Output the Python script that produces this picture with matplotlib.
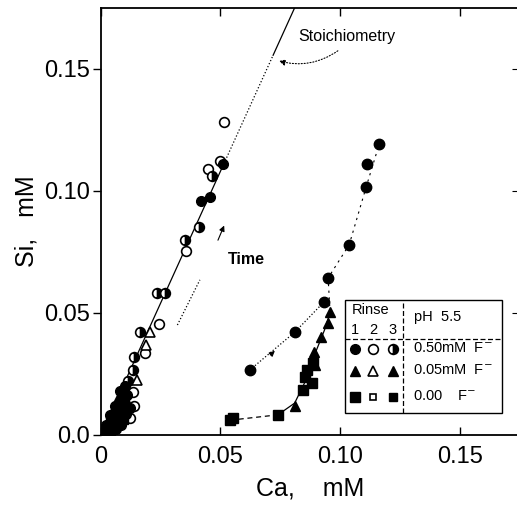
import numpy as np
import matplotlib
matplotlib.use("Agg")
import matplotlib.pyplot as plt
from matplotlib.patches import Rectangle

plt.rcParams['font.family'] = ['Liberation Sans', 'DejaVu Sans']

# ---- data (Ca, Si in mM) ----
# left cluster, rinse 1 (filled), 0.50 mM F-
l_fill_ca = [0.051, 0.0456, 0.042, 0.010, 0.008, 0.006, 0.004, 0.002, 0.001, 0.009, 0.007,
             0.011, 0.0095, 0.0075, 0.005, 0.003, 0.0065, 0.0085, 0.0105, 0.012, 0.004]
l_fill_si = [0.111, 0.0975, 0.096, 0.020, 0.018, 0.012, 0.008, 0.004, 0.002, 0.015, 0.010,
             0.0165, 0.0125, 0.0065, 0.004, 0.0015, 0.0025, 0.004, 0.0085, 0.0110, 0.0005]
# left cluster, rinse 2 (open), 0.50 mM F-
l_open_ca = [0.0515, 0.0448, 0.050, 0.0356, 0.0243, 0.0184, 0.014, 0.0134, 0.0054, 0.0120]
l_open_si = [0.128, 0.109, 0.112, 0.0754, 0.0455, 0.0336, 0.012, 0.0176, 0.0025, 0.0070]
# left cluster, rinse 3 (half filled), 0.50 mM F-
l_half_ca = [0.0464, 0.041, 0.035, 0.0235, 0.027, 0.0163, 0.0138, 0.0134, 0.0115]
l_half_si = [0.106, 0.085, 0.080, 0.058, 0.058, 0.042, 0.032, 0.0266, 0.022]
# left cluster triangles (0.05 mM F-)
l_tri_open_ca = [0.0205, 0.019, 0.015]
l_tri_open_si = [0.042, 0.037, 0.0225]
l_tri_fill_ca = [0.007, 0.005, 0.003, 0.0085, 0.0100, 0.0060, 0.0025]
l_tri_fill_si = [0.015, 0.010, 0.005, 0.012, 0.0150, 0.0070, 0.0030]
# left cluster squares (0.00 F-)
l_sq_ca = [0.004, 0.006, 0.002, 0.008, 0.010, 0.0045, 0.0070, 0.0095, 0.0015]
l_sq_si = [0.006, 0.009, 0.002, 0.010, 0.013, 0.0020, 0.0045, 0.0060, 0.0008]

# right curves, rinse 1
r_circ_ca = [0.0623, 0.0812, 0.0933, 0.0950, 0.1038, 0.1109, 0.1113, 0.1163]
r_circ_si = [0.0266, 0.0422, 0.0545, 0.0643, 0.0779, 0.1016, 0.1110, 0.1190]
r_tri_ca = [0.0958, 0.0950, 0.0890, 0.0895, 0.0810, 0.0920]
r_tri_si = [0.0504, 0.0460, 0.0340, 0.0287, 0.0120, 0.0400]
r_sq_ca = [0.0540, 0.0553, 0.0740, 0.0845, 0.0854, 0.0860, 0.0887, 0.0883]
r_sq_si = [0.0060, 0.0070, 0.0082, 0.0184, 0.0238, 0.0266, 0.0295, 0.0213]

# guide lines through the right curves
low_ca = [0.054, 0.074]
low_si = [0.006, 0.0082]
mid_ca = [0.074, 0.081, 0.0855, 0.089, 0.0935, 0.0958]
mid_si = [0.0082, 0.013, 0.022, 0.032, 0.043, 0.050]
up_ca = [0.0958, 0.0950, 0.1038, 0.1109, 0.1163]
up_si = [0.050, 0.0643, 0.0779, 0.1016, 0.119]
side_ca = [0.0623, 0.0812, 0.0933]
side_si = [0.0266, 0.0422, 0.0545]

stoich_slope = 2.16  # Si/Ca

fig = plt.figure(figsize=(5.17, 5.14), dpi=100)
ax = fig.add_axes([0.195, 0.154, 0.81, 0.831])
ms = 7

# stoichiometry line: solid, dotted gap, solid
xs = np.array([0.0, 0.052])
ax.plot(xs, stoich_slope * xs, 'k-', lw=0.9)
xs = np.array([0.052, 0.072])
ax.plot(xs, stoich_slope * xs, 'k:', lw=0.9)
xs = np.array([0.072, 0.085])
ax.plot(xs, stoich_slope * xs, 'k-', lw=0.9)

# right guide lines
ax.plot(low_ca, low_si, 'k--', lw=0.9, dashes=(4, 3))
ax.plot(mid_ca, mid_si, 'k-', lw=0.9)
ax.plot(up_ca, up_si, 'k--', lw=0.8, dashes=(2, 4))
ax.plot(side_ca, side_si, 'k:', lw=0.9)

# markers
ax.plot(l_open_ca, l_open_si, 'o', ms=ms, mfc='white', mec='k', mew=1.2, ls='none')
ax.plot(l_half_ca, l_half_si, 'o', ms=ms, fillstyle='right', mfc='k', mfcalt='white',
        mec='k', mew=1.2, ls='none')
ax.plot(l_fill_ca, l_fill_si, 'o', ms=ms, color='k', ls='none')
ax.plot(l_tri_open_ca, l_tri_open_si, '^', ms=ms, mfc='white', mec='k', mew=1.2, ls='none')
ax.plot(l_tri_fill_ca, l_tri_fill_si, '^', ms=ms, color='k', ls='none')
ax.plot(l_sq_ca, l_sq_si, 's', ms=ms - 1, color='k', ls='none')

ax.plot(r_circ_ca, r_circ_si, 'o', ms=ms + 0.5, color='k', ls='none')
ax.plot(r_tri_ca, r_tri_si, '^', ms=ms + 0.5, color='k', ls='none')
ax.plot(r_sq_ca, r_sq_si, 's', ms=ms, color='k', ls='none')

# annotations
ax.text(0.0825, 0.163, 'Stoichiometry', fontsize=11.5, va='center', ha='left')
ax.annotate('', xy=(0.0733, 0.1535), xytext=(0.100, 0.158),
            arrowprops=dict(arrowstyle='-|>', color='k', lw=0.8, ls=':',
                            connectionstyle='arc3,rad=-0.25', mutation_scale=9))
ax.text(0.053, 0.0717, 'Time', fontsize=11.5, va='center', ha='left', fontweight='bold')
ax.plot([0.032, 0.0414], [0.045, 0.0635], 'k:', lw=0.9)
ax.annotate('', xy=(0.0520, 0.0868), xytext=(0.0485, 0.0787),
            arrowprops=dict(arrowstyle='-|>', color='k', lw=0.8, mutation_scale=8))
ax.annotate('', xy=(0.0736, 0.0352), xytext=(0.0700, 0.0320),
            arrowprops=dict(arrowstyle='-|>', color='k', lw=0.8, mutation_scale=8))

# legend box drawn by hand
t = ax.transAxes
ax.add_patch(Rectangle((0.583, 0.052), 0.375, 0.264, transform=t, fill=False, lw=1.0, ec='k'))
ax.plot([0.721, 0.721], [0.052, 0.316], 'k--', lw=0.9, transform=t, dashes=(4, 2))
ax.plot([0.583, 0.958], [0.225, 0.225], 'k--', lw=0.9, transform=t, dashes=(4, 2))
ax.text(0.600, 0.293, 'Rinse', fontsize=10.5, transform=t, va='center')
for cx, lab in zip([0.607, 0.651, 0.697], ['1', '2', '3']):
    ax.text(cx, 0.246, lab, fontsize=10.5, transform=t, ha='center', va='center')
ax.text(0.748, 0.277, 'pH  5.5', fontsize=10.5, transform=t, va='center')
leg_x = [0.607, 0.651, 0.697]
leg_y = [0.201, 0.150, 0.089]
ax.plot(leg_x[0], leg_y[0], 'o', ms=ms, color='k', transform=t)
ax.plot(leg_x[1], leg_y[0], 'o', ms=ms, mfc='white', mec='k', mew=1.2, transform=t)
ax.plot(leg_x[2], leg_y[0], 'o', ms=ms, fillstyle='right', mfc='k', mfcalt='white',
        mec='k', mew=1.2, transform=t)
ax.plot(leg_x[0], leg_y[1], '^', ms=ms, color='k', transform=t)
ax.plot(leg_x[1], leg_y[1], '^', ms=ms, mfc='white', mec='k', mew=1.2, transform=t)
ax.plot(leg_x[2], leg_y[1], '^', ms=ms, color='k', transform=t)
ax.plot(leg_x[0], leg_y[2], 's', ms=ms, color='k', transform=t)
ax.plot(leg_x[1], leg_y[2], 's', ms=4, mfc='white', mec='k', mew=1.2, transform=t)
ax.plot(leg_x[2], leg_y[2], 's', ms=ms - 1, color='k', transform=t)
for ly, lab in zip(leg_y, ['0.50mM  F$^{-}$', '0.05mM  F$^{-}$', '0.00    F$^{-}$']):
    ax.text(0.745, ly, lab, fontsize=10.5, transform=t, va='center')

# axes
ax.set_xlim(0, 0.175)
ax.set_ylim(0, 0.175)
ax.set_xticks([0, 0.05, 0.10, 0.15])
ax.set_xticklabels(['0', '0.05', '0.10', '0.15'])
ax.set_yticks([0, 0.05, 0.10, 0.15])
ax.set_yticklabels(['0.0', '0.05', '0.10', '0.15'])
ax.tick_params(axis='x', direction='in', top=True, length=6, width=1, labelsize=17, pad=8)
ax.tick_params(axis='y', direction='out', length=6, width=1, labelsize=17, pad=2)
sec = ax.secondary_yaxis('right')
sec.set_yticks([0.05, 0.10, 0.15])
sec.tick_params(direction='in', length=6, labelright=False)
for s in ax.spines.values():
    s.set_linewidth(1.3)
sec.spines['right'].set_linewidth(1.3)

ax.set_xlabel('Ca,    mM', fontsize=18, labelpad=6)
ax.set_ylabel('Si,   mM', fontsize=18, labelpad=4)

fig.savefig('out.png', dpi=100)
